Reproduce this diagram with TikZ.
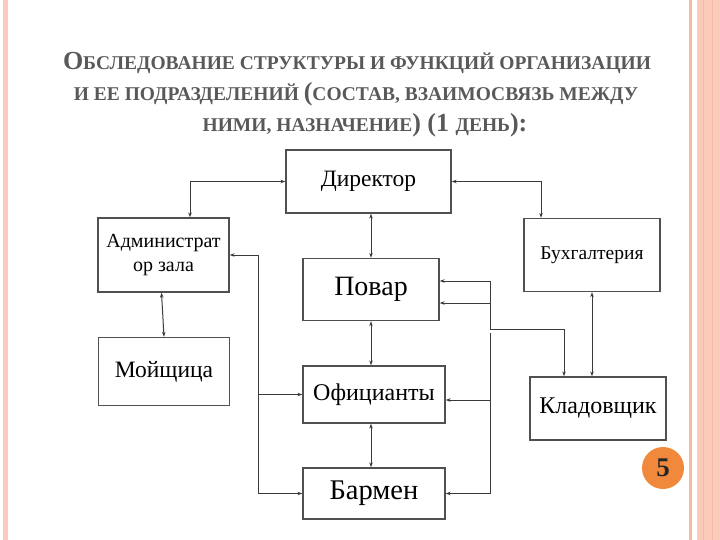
\documentclass[tikz,border=0pt]{standalone}
\usepackage{fontspec}
\setmainfont{Liberation Serif}
\usetikzlibrary{arrows.meta,positioning}
\definecolor{band}{HTML}{F9CBB8}
\definecolor{bandline}{HTML}{F3BBA6}
\definecolor{titlegray}{HTML}{595959}
\definecolor{boxgray}{HTML}{505050}
\definecolor{linegray}{HTML}{3A3A3A}
\definecolor{numorange}{HTML}{F0893C}
\newcommand\smc[1]{{\fontsize{19.5}{19.5}\selectfont\MakeUppercase{#1}}}

\begin{document}
\begin{tikzpicture}[x=1pt,y=-1pt,
    box/.style={draw=boxgray,line width=1.3pt,inner sep=0pt,align=center},
    con/.style={draw=linegray,line width=1pt,{Stealth[length=5pt,width=3.5pt]}-{Stealth[length=5pt,width=3.5pt]}},
    one/.style={draw=linegray,line width=1pt,-{Stealth[length=5pt,width=3.5pt]}},
    ttl/.style={anchor=base,text=titlegray,font=\bfseries\fontsize{26}{26}\selectfont}]
    \useasboundingbox (0,0) rectangle (720,540);
    % side bands
    \fill[band] (3,0) rectangle (8,540);
    \fill[band] (697,0) rectangle (720,540);
    \fill[bandline] (689,0) rectangle (692,540);
    \foreach \x in {703,712}
      \draw[bandline,line width=.8pt] (\x,0)--(\x,540);
    % title
    \node[ttl] (t1) at (357,70) {О\smc{бследование структуры и функций организации}};
    \node[ttl] (t2) at (356,101) {\smc{и ее подразделений }(\smc{состав, взаимосвязь между}};
    \node[ttl] (t3) at (365,132) {\smc{ними, назначение}) (1 \smc{день}):};
    % boxes
    \node[box,minimum width=165pt,minimum height=63pt,font=\fontsize{23.5}{23.5}\selectfont] (dir) at (368.5,181.5) {Директор};
    \node[box,minimum width=131pt,minimum height=74pt,font=\fontsize{20}{24}\selectfont] (adm) at (163.5,255) {Администрат\\ор зала};
    \node[box,minimum width=136pt,minimum height=73pt,font=\fontsize{19.5}{19.5}\selectfont] (buh) at (592,255) {Бухгалтерия};
    \node[box,minimum width=136pt,minimum height=62pt,font=\fontsize{28}{28}\selectfont] (pov) at (371,289.5) {Повар};
    \node[box,minimum width=131pt,minimum height=68pt,font=\fontsize{23.5}{23.5}\selectfont] (moy) at (164,371.5) {Мойщица};
    \node[box,minimum width=142pt,minimum height=57pt,font=\fontsize{24}{24}\selectfont] (ofc) at (374,394.5) {Официанты};
    \node[box,minimum width=142pt,minimum height=51pt,font=\fontsize{28.5}{28.5}\selectfont] (bar) at (374,493.5) {Бармен};
    \node[box,minimum width=136pt,minimum height=63pt,font=\fontsize{24}{24}\selectfont] (kld) at (598,408.5) {Кладовщик};
    \node[circle,fill=numorange,minimum size=42pt,inner sep=0pt,text=black!85,font=\bfseries\fontsize{27}{27}\selectfont] (num) at (663,468) {5};
    % bus points
    \coordinate (lb) at (258,0);
    \coordinate (rk) at (490,329);
    \coordinate (rp) at (490,303);
    \coordinate (ro) at (490,400);
    \coordinate (rt) at (490,333);
    % connectors
    \draw[con] (dir.west) -| ([xshift=26.5pt]adm.north);
    \draw[con] (dir.east) -| ([xshift=-51pt]buh.north);
    \draw[con] (pov.north |- dir.south) -- (pov.north);
    \draw[con] (pov.south) -- (pov.south |- ofc.north);
    \draw[con] (pov.south |- ofc.south) -- (pov.south |- bar.north);
    \draw[con] ([xshift=-2pt]adm.south) -- (moy.north);
    \draw[con] (buh.south) -- (buh.south |- kld.north);
    \draw[con] (adm.east) -- (adm.east -| lb) |- (bar.west);
    \draw[one] (ofc.west -| lb) -- (ofc.west);
    \draw[con] ([yshift=8.5pt]pov.east) -| (rk) -| ([xshift=-34pt]kld.north);
    \draw[one] (rp) -- (rp -| pov.east);
    \draw[one] (rt) |- (bar.east);
    \draw[one] (ro) -- (ro -| ofc.east);
\end{tikzpicture}
\end{document}
